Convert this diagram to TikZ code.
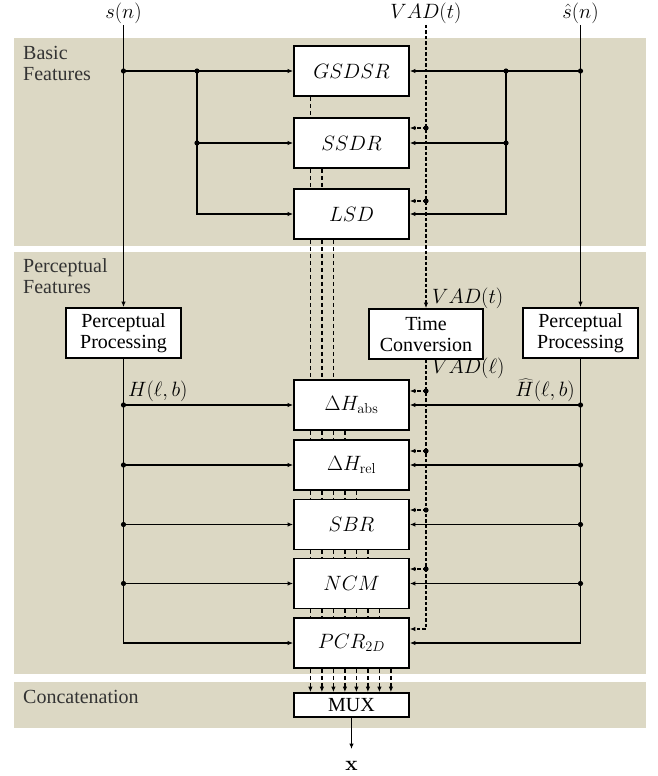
\documentclass[tikz,border=0pt]{standalone}
\usepackage[no-math]{fontspec}
\setmainfont{Liberation Serif}
\usetikzlibrary{arrows.meta}
\definecolor{bgtan}{RGB}{220,216,196}
\begin{document}
\begin{tikzpicture}[x=1pt,y=-1pt,
  txt/.style={font=\fontsize{20}{21}\selectfont, inner sep=0pt},
  mth/.style={font=\fontsize{20.74}{22}\selectfont, inner sep=0pt},
  sec/.style={align=left, text=black!80, inner sep=0pt, font=\fontsize{20}{21.5}\selectfont},
  blk/.style={draw=black, line width=1.7pt, fill=white, minimum width=115pt, minimum height=50pt, inner sep=0pt, align=center},
  conn/.style={line width=1.3pt, draw=black},
  tip/.style={-{Latex[length=5.5pt,width=4.5pt]}},
  vad/.style={line width=1.1pt, draw=black, dash pattern=on 3.5pt off 2pt},
  feat/.style={line width=1.2pt, draw=black, dash pattern=on 4pt off 3pt}
]
\useasboundingbox (0,0) rectangle (657,776);
% section backgrounds
\fill[bgtan] (14,38) rectangle (646,246);
\fill[bgtan] (14,252) rectangle (646,674);
\fill[bgtan] (14,682) rectangle (646,728);
\node[sec, anchor=base west] (lbasic) at (23,81) {Basic\\Features};
\node[sec, anchor=base west] (lperc) at (23,293.5) {Perceptual\\Features};
\node[sec, anchor=base west] (lconc) at (23,703) {Concatenation};

% blocks
\node[blk, mth] (GSDSR) at (351.5,71) {$GSDSR$};
\node[blk, mth] (SSDR) at (351.5,143) {$SSDR$};
\node[blk, mth] (LSD) at (351.5,214) {$LSD$};
\node[blk, mth] (dHabs) at (351.5,405) {$\Delta H_{\mathrm{abs}}$};
\node[blk, mth] (dHrel) at (351.5,465) {$\Delta H_{\mathrm{rel}}$};
\node[blk, mth] (SBR) at (351.5,524.5) {$SBR$};
\node[blk, mth] (NCM) at (351.5,583.5) {$NCM$};
\node[blk, mth] (PCR) at (351.5,643) {$PCR_{2D}$};
\node[blk, txt, minimum height=24pt] (MUX) at (351.5,705) {MUX};
\node[blk, txt] (PPL) at (123.5,333) {Perceptual\\Processing};
\node[blk, txt] (PPR) at (580.5,333) {Perceptual\\Processing};
\node[blk, txt, minimum width=114pt] (TC) at (426,334) {Time\\Conversion};

% top labels and inputs
\node[mth] (slab) at (123.5,13) {$s(n)$};
\node[mth] (vlab) at (426,13) {$VAD(t)$};
\node[mth] (shlab) at (580.5,13) {$\hat{s}(n)$};
\coordinate (sTop) at (123.5,25);
\coordinate (vTop) at (426,25);
\coordinate (shTop) at (580.5,25);
\draw[conn,tip] (sTop) -- (PPL.north);
\draw[conn,tip] (shTop) -- (PPR.north);
\draw[vad,tip] (vTop) -- (TC.north);

% basic features feeds
\coordinate (bl) at (197,71);
\coordinate (br) at (506,71);
\draw[conn,tip] (sTop |- GSDSR.west) -- (GSDSR.west);
\draw[conn,tip] (bl) |- (LSD.west);
\draw[conn,tip] (bl |- SSDR.west) -- (SSDR.west);
\draw[conn,tip] (shTop |- GSDSR.east) -- (GSDSR.east);
\draw[conn,tip] (br) |- (LSD.east);
\draw[conn,tip] (br |- SSDR.east) -- (SSDR.east);
\foreach \p in {(sTop |- GSDSR.west),(bl),(bl |- SSDR.west),(shTop |- GSDSR.east),(br),(br |- SSDR.east)}
  \fill[black] \p circle[radius=2.6pt];

% perceptual features feeds
\draw[conn,tip] (PPL.south) |- (PCR.west);
\draw[conn,tip] (PPR.south) |- (PCR.east);
\foreach \b in {dHabs,dHrel,SBR,NCM} {
  \draw[conn,tip] (PPL.south |- \b.west) -- (\b.west);
  \draw[conn,tip] (PPR.south |- \b.east) -- (\b.east);
  \fill[black] (PPL.south |- \b.west) circle[radius=2.6pt];
  \fill[black] (PPR.south |- \b.east) circle[radius=2.6pt];
}

% VAD taps
\coordinate (v1) at (426,128);
\coordinate (v2) at (426,201);
\coordinate (v3) at (426,391);
\coordinate (v4) at (426,451);
\coordinate (v5) at (426,510);
\coordinate (v6) at (426,569);
\coordinate (v7) at (426,629);
\draw[vad,tip] (TC.south) |- (PCR.east |- v7);
\foreach \v/\b in {v1/SSDR,v2/LSD,v3/dHabs,v4/dHrel,v5/SBR,v6/NCM} {
  \draw[vad,tip] (\v) -- (\b.east |- \v);
  \fill[black] (\v) circle[radius=2.6pt];
}

% feature pass-through lines
\foreach \up/\dn/\n in {GSDSR/SSDR/1, SSDR/LSD/2, LSD/dHabs/3, dHabs/dHrel/4, dHrel/SBR/5, SBR/NCM/6, NCM/PCR/7} {
  \foreach \i in {1,...,\n} {
    \pgfmathsetmacro\xo{(\i+0.5)*11.5}
    \draw[feat] ([xshift=\xo pt]\up.south west) -- ([xshift=\xo pt]\dn.north west);
  }
}
\foreach \i in {1,...,8} {
  \pgfmathsetmacro\xo{(\i+0.5)*11.5}
  \draw[feat,tip] ([xshift=\xo pt]PCR.south west) -- ([xshift=\xo pt]MUX.north west);
}

% output
\coordinate (xend) at (351.5,749);
\draw[conn,tip] (MUX.south) -- (xend);
\node[mth] (xlab) at (351.5,766) {$\mathbf{x}$};

% signal labels
\node[mth, anchor=base west] (vtl) at (432,303) {$VAD(t)$};
\node[mth, anchor=base west] (vll) at (432,373) {$VAD(\ell)$};
\node[mth, anchor=base west] (Hl) at (128,396) {$H(\ell,b)$};
\node[mth, anchor=base east] (Hr) at (575,396) {$\widehat{H}(\ell,b)$};
\end{tikzpicture}
\end{document}
